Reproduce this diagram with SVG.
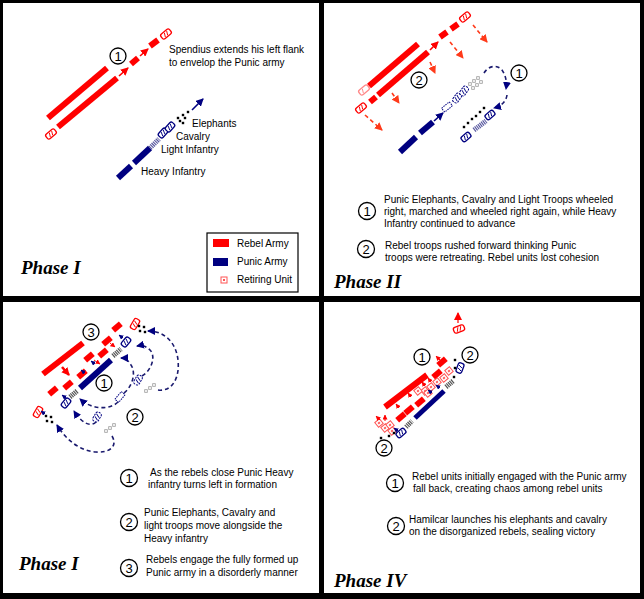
<svg xmlns="http://www.w3.org/2000/svg" xmlns:xlink="http://www.w3.org/1999/xlink" width="644" height="599" viewBox="0 0 644 599">
<style>
.t{font-family:"Liberation Sans",Arial,sans-serif;font-size:10px;fill:#000}
.ph{font-family:"Liberation Serif","Times New Roman",serif;font-style:italic;font-weight:bold;font-size:19px;fill:#000}
.cn{font-family:"Liberation Sans",Arial,sans-serif;font-size:13px;fill:#000;text-anchor:middle}
.cc{fill:#fff;stroke:#000;stroke-width:1.3}
.rl{stroke:#f00;stroke-width:6;fill:none}
.bl{stroke:#000080;stroke-width:6;fill:none}
.ra{stroke:#f00;stroke-width:1.6;fill:none;marker-end:url(#mr)}
.rs{stroke:#f00;stroke-width:1;fill:none;marker-end:url(#mrs)}
.od{stroke:#ff3a1a;stroke-width:1.6;fill:none;stroke-dasharray:4 3;marker-end:url(#mo)}
.na{stroke:#000080;stroke-width:1.6;fill:none;marker-end:url(#mn)}
.nd{stroke:#1a1a6e;stroke-width:1.6;fill:none;stroke-dasharray:4 3;marker-end:url(#mn)}
.ns{stroke:#000080;stroke-width:1;fill:none;marker-end:url(#mns)}
.hb{stroke:#5a5aa0;stroke-width:5;fill:none;stroke-dasharray:1.2 0.8}
.hg{stroke:#555;stroke-width:5;fill:none;stroke-dasharray:1.2 0.8}
</style>
<defs>
<marker id="mr" markerUnits="userSpaceOnUse" markerWidth="8" markerHeight="8" refX="7" refY="4" orient="auto"><path d="M0,0 L8,4 L0,8 z" fill="#f00"/></marker>
<marker id="mrs" markerUnits="userSpaceOnUse" markerWidth="5" markerHeight="5" refX="4.5" refY="2.5" orient="auto"><path d="M0,0 L5,2.5 L0,5 z" fill="#f00"/></marker>
<marker id="mo" markerUnits="userSpaceOnUse" markerWidth="8" markerHeight="8" refX="7" refY="4" orient="auto"><path d="M0,0 L8,4 L0,8 z" fill="#ff3a1a"/></marker>
<marker id="mn" markerUnits="userSpaceOnUse" markerWidth="8" markerHeight="8" refX="7" refY="4" orient="auto"><path d="M0,0 L8,4 L0,8 z" fill="#000080"/></marker>
<marker id="mns" markerUnits="userSpaceOnUse" markerWidth="5" markerHeight="5" refX="4.5" refY="2.5" orient="auto"><path d="M0,0 L5,2.5 L0,5 z" fill="#000080"/></marker>
<g id="ret"><rect x="-5.5" y="-3" width="11" height="6" rx="2" fill="#fff" stroke="#f00" stroke-width="1.3"/><path d="M-2.5,2 L-0.5,-2 M0.5,2 L2.5,-2" stroke="#f00" stroke-width="0.9"/></g>
<g id="retp"><rect x="-5.5" y="-3" width="11" height="6" rx="2" fill="#fff" stroke="#f88" stroke-width="1.3"/><path d="M-2.5,2 L-0.5,-2" stroke="#f88" stroke-width="0.9"/></g>
<g id="rsq"><rect x="-3" y="-3" width="6" height="6" fill="#fff" stroke="#f55" stroke-width="1"/><rect x="-1" y="-1" width="2" height="2" fill="#f55"/></g>
<g id="cav"><rect x="-5" y="-3" width="10" height="6" rx="2" fill="#fff" stroke="#000080" stroke-width="1.3"/><path d="M-2.5,2 L-0.5,-2 M0.5,2 L2.5,-2" stroke="#000080" stroke-width="0.9"/></g>
<g id="cvh"><rect x="-5" y="-3" width="10" height="6" rx="2" fill="#fff" stroke="#000080" stroke-width="1" stroke-dasharray="2 1"/><path d="M-2.5,2 L-0.5,-2 M0.5,2 L2.5,-2" stroke="#000080" stroke-width="0.9"/></g>
<g id="gho"><rect x="-5" y="-2.5" width="10" height="5" fill="#fff" stroke="#000080" stroke-width="1" stroke-dasharray="1.5 1"/></g>
<rect id="d" x="-1.2" y="-1.2" width="2.4" height="2.4" fill="#000"/>
<rect id="gs" x="-1.3" y="-1.3" width="2.6" height="2.6" fill="#fff" stroke="#999" stroke-width="0.8"/>
</defs>

<g id="frame">
<rect x="0" y="0" width="644" height="599" fill="#000"/>
<rect x="3" y="3" width="316" height="293" fill="#fff"/>
<rect x="324" y="3" width="316" height="293" fill="#fff"/>
<rect x="3" y="302" width="316" height="291" fill="#fff"/>
<rect x="324" y="302" width="316" height="291" fill="#fff"/>
</g>

<!-- PHASE I -->
<g id="phase1">
<g id="p1-rebels">
<line class="rl" x1="48" y1="118" x2="107" y2="68"/>
<line class="rl" x1="58" y1="127" x2="117" y2="78"/>
<line class="ra" x1="119" y1="76" x2="128" y2="68"/>
<line class="rl" x1="131" y1="64" x2="138" y2="58"/>
<line class="ra" x1="140" y1="56" x2="148" y2="49"/>
<line class="rl" x1="150" y1="46" x2="158" y2="40"/>
<use href="#ret" transform="translate(166,34) rotate(-40)"/>
<use href="#ret" transform="translate(51,134) rotate(-40)"/>
</g>
<g id="p1-c1"><circle class="cc" cx="118" cy="56" r="8"/><text class="cn" x="118" y="60.5">1</text></g>
<text class="t" x="169" y="53">Spendius extends his left flank</text>
<text class="t" x="169" y="66">to envelop the Punic army</text>
<g id="p1-punic">
<line class="bl" x1="118" y1="178" x2="131" y2="166"/>
<line class="bl" x1="134" y1="163" x2="150" y2="148"/>
<line class="hb" x1="150" y1="148" x2="159" y2="139"/>
<use href="#cav" transform="translate(163,133) rotate(-48)"/>
<use href="#cav" transform="translate(170,127) rotate(-48)"/>
<use href="#d" x="178" y="118"/><use href="#d" x="183" y="115"/><use href="#d" x="188" y="112"/>
<use href="#d" x="180" y="121"/><use href="#d" x="185" y="118"/><use href="#d" x="183" y="123"/>
<line class="na" x1="192" y1="110" x2="203" y2="99"/>
</g>
<text class="t" x="192" y="127">Elephants</text>
<text class="t" x="176" y="140">Cavalry</text>
<text class="t" x="161" y="153">Light Infantry</text>
<text class="t" x="141" y="175">Heavy Infantry</text>
<g id="legend">
<rect x="207" y="233" width="91" height="59" fill="#fff" stroke="#000" stroke-width="1.2"/>
<rect x="213" y="239" width="16" height="8" fill="#f00"/>
<text class="t" x="237" y="247">Rebel Army</text>
<rect x="213" y="258" width="15" height="8" fill="#000080"/>
<text class="t" x="237" y="265">Punic Army</text>
<use href="#rsq" x="224" y="280"/>
<text class="t" x="237" y="283">Retiring Unit</text>
</g>
<text class="ph" x="21" y="274">Phase I</text>
</g>

<!-- PHASE II -->
<g id="phase2">
<g id="p2-rebels">
<use href="#retp" transform="translate(364,90) rotate(-40)"/>
<line class="rl" x1="369" y1="86" x2="418" y2="44"/>
<line class="rl" x1="370" y1="102" x2="376" y2="97"/>
<line class="rl" x1="378" y1="95" x2="428" y2="52"/>
<line class="ra" x1="430" y1="50" x2="438" y2="42"/>
<line class="rl" x1="440" y1="37" x2="447" y2="32"/>
<line class="rl" x1="451" y1="29" x2="458" y2="24"/>
<use href="#ret" transform="translate(465,17) rotate(-40)"/>
<use href="#ret" transform="translate(361,108) rotate(-40)"/>
<path class="od" d="M473,25 L487,42"/>
<path class="od" d="M450,42 L463,58"/>
<path class="od" d="M430,62 L435,73"/>
<path class="od" d="M392,93 L399,103"/>
<path class="od" d="M365,115 L382,130"/>
</g>
<g id="p2-punic">
<line class="bl" x1="400" y1="152" x2="416" y2="137"/>
<line class="bl" x1="420" y1="133" x2="433" y2="122"/>
<line class="na" x1="434" y1="121" x2="443" y2="113"/>
<use href="#gho" transform="translate(447,107) rotate(-40)"/>
<use href="#cvh" transform="translate(457,98) rotate(-55)"/>
<use href="#cvh" transform="translate(464,91) rotate(-55)"/>
<use href="#gs" x="470" y="84"/><use href="#gs" x="474" y="81"/><use href="#gs" x="478" y="78"/>
<use href="#gs" x="473" y="88"/><use href="#gs" x="477" y="85"/><use href="#gs" x="481" y="82"/>
<path class="nd" d="M484,73 C488,66 497,64 502,70 C506,76 507,82 506,89"/>
<path class="nd" d="M507,95 C506,102 501,106 494,108"/>
<use href="#d" x="464" y="127"/><use href="#d" x="468" y="123"/><use href="#d" x="472" y="119"/>
<use href="#d" x="476" y="116"/><use href="#d" x="480" y="112"/><use href="#d" x="484" y="108"/>
<line class="hb" x1="474" y1="130" x2="486" y2="121"/>
<use href="#cav" transform="translate(490,115) rotate(-40)"/>
<use href="#cav" transform="translate(466,137) rotate(-40)"/>
</g>
<g id="p2-c2"><circle class="cc" cx="419" cy="80" r="8"/><text class="cn" x="419" y="84.5">2</text></g>
<g id="p2-c1"><circle class="cc" cx="519" cy="73" r="8"/><text class="cn" x="519" y="77.5">1</text></g>
<g id="p2-n1"><circle class="cc" cx="367" cy="211" r="8.5"/><text class="cn" x="367" y="215.5">1</text></g>
<text class="t" x="384" y="203">Punic Elephants, Cavalry and Light Troops wheeled</text>
<text class="t" x="384" y="215">right, marched and wheeled right again, while Heavy</text>
<text class="t" x="384" y="227">Infantry continued to advance</text>
<g id="p2-n2"><circle class="cc" cx="366" cy="249" r="8.5"/><text class="cn" x="366" y="253.5">2</text></g>
<text class="t" x="385" y="249">Rebel troops rushed forward thinking Punic</text>
<text class="t" x="385" y="261">troops were retreating. Rebel units lost cohesion</text>
<text class="ph" x="334" y="288">Phase II</text>
</g>

<!-- PHASE III -->
<g id="phase3">
<g id="p3-rebels">
<line class="rl" x1="43" y1="374" x2="83" y2="343"/>
<line x1="62" y1="367" x2="69" y2="375" stroke="#f00" stroke-width="2.5" marker-end="url(#mr)"/>
<g fill="#f00">
<rect x="-5" y="-3" width="10" height="6" transform="translate(117,327) rotate(-40)"/>
<rect x="-5" y="-3" width="10" height="6" transform="translate(107,341) rotate(-40)"/>
<rect x="-5" y="-3" width="10" height="6" transform="translate(103,353) rotate(-40)"/>
<rect x="-5" y="-3" width="10" height="6" transform="translate(89,357) rotate(-40)"/>
<rect x="-5" y="-3" width="10" height="6" transform="translate(82,374) rotate(-40)"/>
<rect x="-5" y="-3" width="10" height="6" transform="translate(68,385) rotate(-40)"/>
<rect x="-5" y="-3" width="10" height="6" transform="translate(53,391) rotate(-40)"/>
</g>
<path class="rs" d="M110,343 L115,347" stroke-dasharray="2 1"/>
<path class="rs" d="M94,360 L100,364" stroke-dasharray="2 1"/>
<use href="#ret" transform="translate(135,324) rotate(-60)"/>
<use href="#ret" transform="translate(38,412) rotate(-60)"/>
</g>
<g id="p3-punic">
<line class="bl" x1="80" y1="388" x2="111" y2="360"/>
<line class="hg" x1="113" y1="356" x2="121" y2="349"/>
<line class="hg" x1="70" y1="397" x2="77" y2="391"/>
<use href="#cav" transform="translate(126,342) rotate(-50)"/>
<use href="#cav" transform="translate(66,403) rotate(-50)"/>
<use href="#d" x="139" y="326"/><use href="#d" x="144" y="327"/><use href="#d" x="140" y="331"/><use href="#d" x="145" y="332"/>
<use href="#d" x="46" y="416"/><use href="#d" x="51" y="417"/><use href="#d" x="47" y="421"/><use href="#d" x="52" y="422"/>
<path class="ns" d="M95,364 L91,361"/>
<path class="ns" d="M85,373 L81,370"/>
<path class="ns" d="M66,398 L62,395"/>
<path class="ns" d="M123,338 L119,335"/>
<path class="ns" d="M45,414 L41,411"/>
<use href="#cvh" transform="translate(138,380) rotate(-60)"/>
<use href="#cvh" transform="translate(97,417) rotate(-60)"/>
<use href="#gho" transform="translate(120,397) rotate(-50)"/>
<use href="#gs" x="146" y="391"/><use href="#gs" x="150" y="388"/><use href="#gs" x="154" y="385"/>
<use href="#gs" x="106" y="431"/><use href="#gs" x="110" y="428"/><use href="#gs" x="114" y="425"/>
<path class="nd" d="M158,390 C172,392 180,378 178,360 C176,342 164,331 148,331"/>
<path class="nd" d="M142,376 C152,370 156,356 150,350 C146,346 142,345 137,346"/>
<path class="nd" d="M124,393 C133,386 136,372 131,365 C128,360 125,358 121,358"/>
<path class="nd" d="M118,402 C110,410 92,410 80,399"/>
<path class="nd" d="M112,436 C118,446 110,453 96,452 C80,451 66,440 57,425"/>
<path class="nd" d="M96,422 C90,428 81,422 74,411"/>
</g>
<g id="p3-c3"><circle class="cc" cx="91" cy="332" r="8"/><text class="cn" x="91" y="336.5">3</text></g>
<g id="p3-c1"><circle class="cc" cx="104" cy="383" r="8"/><text class="cn" x="104" y="387.5">1</text></g>
<g id="p3-c2"><circle class="cc" cx="135" cy="417" r="8"/><text class="cn" x="135" y="421.5">2</text></g>
<g id="p3-n1"><circle class="cc" cx="129" cy="478" r="8.5"/><text class="cn" x="129" y="482.5">1</text></g>
<text class="t" x="150" y="476">As the rebels close Punic Heavy</text>
<text class="t" x="148" y="488">infantry turns left in formation</text>
<g id="p3-n2"><circle class="cc" cx="129" cy="522" r="8.5"/><text class="cn" x="129" y="526.5">2</text></g>
<text class="t" x="144" y="516">Punic Elephants, Cavalry and</text>
<text class="t" x="144" y="529">light troops move alongside the</text>
<text class="t" x="144" y="542">Heavy infantry</text>
<g id="p3-n3"><circle class="cc" cx="129" cy="568" r="8.5"/><text class="cn" x="129" y="572.5">3</text></g>
<text class="t" x="146" y="563">Rebels engage the fully formed up</text>
<text class="t" x="146" y="576">Punic army in a disorderly manner</text>
<text class="ph" x="19" y="570">Phase I</text>
</g>

<!-- PHASE IV -->
<g id="phase4">
<g id="p4-rebels">
<use href="#ret" transform="translate(459,329) rotate(-20)"/>
<line class="ra" x1="458" y1="323" x2="458" y2="313" style="stroke-width:1.2"/>
<line class="rl" x1="385" y1="407" x2="427" y2="375"/>
<g fill="#f00">
<rect x="-5" y="-3" width="10" height="6" transform="translate(442,362) rotate(-40)"/>
<rect x="-5" y="-3" width="10" height="6" transform="translate(437,374) rotate(-40)"/>
<rect x="-5" y="-3" width="10" height="6" transform="translate(420,402) rotate(-40)"/>
<rect x="-5" y="-3" width="10" height="6" transform="translate(409,410) rotate(-40)"/>
<rect x="-5" y="-3" width="10" height="6" transform="translate(401,417) rotate(-40)"/>
</g>
<use href="#rsq" transform="translate(449,371) rotate(-40)"/>
<use href="#rsq" transform="translate(444,378) rotate(-40)"/>
<use href="#rsq" transform="translate(437,382) rotate(-40)"/>
<use href="#rsq" transform="translate(431,387) rotate(-40)"/>
<use href="#rsq" transform="translate(425,391) rotate(-40)"/>
<use href="#rsq" transform="translate(418,391) rotate(-40)"/>
<use href="#rsq" transform="translate(428,393) rotate(-40)"/>
<use href="#rsq" transform="translate(379,423) rotate(-40)"/>
<use href="#rsq" transform="translate(385,428) rotate(-40)"/>
<use href="#rsq" transform="translate(390,425) rotate(-40)"/>
<use href="#rsq" transform="translate(392,431) rotate(-40)"/>
<path class="rs" d="M441,361 L436,356"/>
<path class="rs" d="M431,382 L428,378"/>
<path class="rs" d="M425,386 L422,382"/>
<path class="rs" d="M411,397 L408,393"/>
<path class="rs" d="M399,408 L396,404"/>
<path class="rs" d="M380,420 L376,416"/>
<path class="rs" d="M385,421 L385,415"/>
</g>
<g id="p4-punic">
<line class="bl" x1="415" y1="418" x2="444" y2="391" style="stroke-width:5"/>
<line class="hg" x1="446" y1="387" x2="453" y2="381"/>
<line class="hg" x1="406" y1="427" x2="412" y2="421"/>
<use href="#cav" transform="translate(460,368) rotate(-70)"/>
<use href="#cav" transform="translate(401,433) rotate(-40)"/>
<use href="#d" x="455" y="360"/><use href="#d" x="455" y="368"/><use href="#d" x="454" y="377"/>
<use href="#d" x="381" y="438"/><use href="#d" x="389" y="436"/><use href="#d" x="394" y="433"/>
<path class="ns" d="M432,393 L428,390"/>
<path class="ns" d="M440,388 L436,385"/>
<path class="ns" d="M398,431 L394,428"/>
</g>
<g id="p4-c1"><circle class="cc" cx="422" cy="357" r="8"/><text class="cn" x="422" y="361.5">1</text></g>
<g id="p4-c2"><circle class="cc" cx="470" cy="355" r="8"/><text class="cn" x="470" y="359.5">2</text></g>
<g id="p4-c2b"><circle class="cc" cx="384" cy="448" r="8"/><text class="cn" x="384" y="452.5">2</text></g>
<g id="p4-n1"><circle class="cc" cx="395" cy="483" r="8.5"/><text class="cn" x="395" y="487.5">1</text></g>
<text class="t" x="412" y="480">Rebel units initially engaged with the Punic army</text>
<text class="t" x="413" y="492">fall back, creating chaos among rebel units</text>
<g id="p4-n2"><circle class="cc" cx="396" cy="526" r="8.5"/><text class="cn" x="396" y="530.5">2</text></g>
<text class="t" x="409" y="523">Hamilcar launches his elephants and cavalry</text>
<text class="t" x="409" y="535">on the disorganized rebels, sealing victory</text>
<text class="ph" x="334" y="587">Phase IV</text>
</g>
</svg>
